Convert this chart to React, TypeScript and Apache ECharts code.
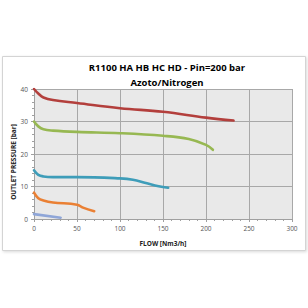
import React, { useEffect, useRef } from "react";
import * as echarts from "echarts";

const titleLines = ["R1100 HA HB HC HD - Pin=200 bar", "Azoto/Nitrogen"];
const xName = "FLOW [Nm3/h]";
const yName = "OUTLET PRESSURE [bar]";

const redSeries: [number, number][] = [
  [0, 40], [5, 38.6], [11, 37.4], [22, 36.6], [50, 35.7], [100, 34.1], [150, 33.0], [200, 31.2], [232, 30.3],
];
const greenSeries: [number, number][] = [
  [0, 30], [5, 28.5], [11, 27.6], [22, 27.2], [50, 26.8], [100, 26.4], [150, 25.6], [180, 24.6], [200, 22.8], [208, 21.3],
];
const tealSeries: [number, number][] = [
  [0, 15], [5, 13.6], [11, 13.1], [22, 12.9], [50, 12.9], [100, 12.5], [115, 12.1], [130, 11.1], [145, 10.1], [156, 9.6],
];
const orangeSeries: [number, number][] = [
  [0, 8.1], [5, 6.4], [11, 5.7], [22, 5.1], [50, 4.4], [57, 3.5], [70, 2.4],
];
const lightSeries: [number, number][] = [
  [0, 1.5], [31, 0.4],
];

const seriesList = [
  { data: redSeries, color: "#B33F3C" },
  { data: greenSeries, color: "#97B852" },
  { data: tealSeries, color: "#3E9DB9" },
  { data: orangeSeries, color: "#EA8034" },
  { data: lightSeries, color: "#8FA6D8" },
];

export default function App() {
  const ref = useRef<HTMLDivElement>(null);
  useEffect(() => {
    if (!ref.current) return;
    const chart = echarts.init(ref.current, null, { renderer: "svg" });
    const font = "Open Sans, Liberation Sans, sans-serif";
    chart.setOption({
      animation: false,
      backgroundColor: "#ffffff",
      textStyle: { fontFamily: font },
      graphic: [
        {
          type: "rect",
          z: -10,
          shape: { x: 2.5, y: 56.5, width: 303, height: 194 },
          style: { fill: "#ffffff", stroke: "#d4d4d4", lineWidth: 1, shadowBlur: 3, shadowColor: "rgba(0,0,0,0.15)", shadowOffsetX: 1, shadowOffsetY: 1 },
        },
        {
          type: "text",
          x: 167, y: 67,
          style: { text: titleLines[0], fontSize: 9.5, fontWeight: "bold", fill: "#000", align: "center", verticalAlign: "middle", fontFamily: font },
        },
        {
          type: "text",
          x: 167, y: 82,
          style: { text: titleLines[1], fontSize: 9.5, fontWeight: "bold", fill: "#000", align: "center", verticalAlign: "middle", fontFamily: font },
        },
        {
          type: "text",
          x: 13, y: 162, rotation: Math.PI / 2,
          style: { text: yName, fontSize: 6.5, fontWeight: "bold", fill: "#222", align: "center", verticalAlign: "middle", fontFamily: font },
        },
      ],
      grid: {
        left: 34, right: 16, top: 89, bottom: 89,
        show: true, backgroundColor: "#e9e9e9", borderWidth: 0,
      },
      xAxis: {
        type: "value", min: 0, max: 300, interval: 50,
        name: xName, nameLocation: "middle", nameGap: 21,
        nameTextStyle: { fontSize: 6.5, fontWeight: "bold", color: "#222" },
        axisLine: { show: true, lineStyle: { color: "#a0a0a0", width: 1 } },
        axisTick: { show: true, length: 3, lineStyle: { color: "#a0a0a0" } },
        minorTick: { show: true, splitNumber: 5, length: 2, lineStyle: { color: "#a0a0a0" } },
        axisLabel: { fontSize: 6.5, color: "#555", margin: 6 },
        splitLine: { show: true, lineStyle: { color: "#a8a8a8", width: 1 } },
      },
      yAxis: {
        type: "value", min: 0, max: 40, interval: 10,
        axisLine: { show: true, lineStyle: { color: "#a0a0a0", width: 1 } },
        axisTick: { show: true, length: 3, lineStyle: { color: "#a0a0a0" } },
        minorTick: { show: true, splitNumber: 5, length: 2, lineStyle: { color: "#a0a0a0" } },
        axisLabel: { fontSize: 6.5, color: "#555", margin: 6 },
        splitLine: { show: true, lineStyle: { color: "#a8a8a8", width: 1 } },
      },
      series: seriesList.map((s) => ({
        type: "line",
        data: s.data,
        smooth: 0.4,
        showSymbol: false,
        symbol: "none",
        lineStyle: { color: s.color, width: 2.6, cap: "round" },
        itemStyle: { color: s.color },
      })),
    });
    return () => chart.dispose();
  }, []);
  return <div ref={ref} style={{ position: "fixed", left: 0, top: 0, width: 308, height: 308 }} />;
}
